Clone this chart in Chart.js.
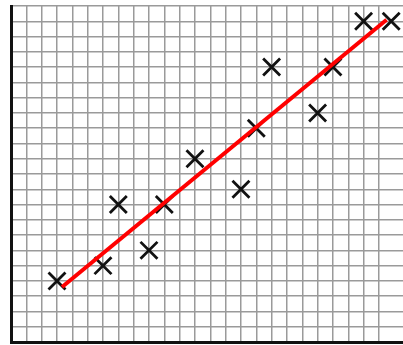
<!DOCTYPE html>
<html>
<head>
<meta charset="utf-8">
<style>
  html, body { margin: 0; padding: 0; background: #fff; }
  canvas { display: block; }
</style>
<script src="https://cdn.jsdelivr.net/npm/chart.js@4"></script>
</head>
<body>
<canvas id="chart" width="403" height="345"></canvas>
<script>
// scatter points (1 unit = 1 cell)
const pointsX = [3, 6, 7, 9, 10, 12, 15, 16, 17, 20, 21, 23, 24.8];
const pointsY = [4, 5, 9, 6, 9, 12, 10, 14, 18, 15, 18, 21, 21];

// red trend line endpoints
const lineX = [3.33, 24.5];
const lineY = [3.6, 21.1];

const xRange = [0, 25.57];
const yRange = [0, 22];

const toXY = (xs, ys) => xs.map((x, i) => ({ x, y: ys[i] }));

// keep only whole-number ticks so the grid is one cell per unit
const wholeTicks = (scale) => {
  scale.ticks = scale.ticks.filter((t) => Number.isInteger(t.value));
};

const gridOpts = {
  color: '#9a9a9a',
  lineWidth: 1.5,
  drawTicks: false
};

const borderOpts = {
  color: '#111',
  width: 3
};

new Chart(document.getElementById('chart').getContext('2d'), {
  type: 'scatter',
  data: {
    datasets: [
      {
        label: 'points',
        data: toXY(pointsX, pointsY),
        pointStyle: 'crossRot',
        pointRadius: 12,
        pointBorderWidth: 2.8,
        borderColor: '#111',
        backgroundColor: '#111',
        order: 1
      },
      {
        // drawn over the markers
        type: 'line',
        label: 'fit',
        data: toXY(lineX, lineY),
        borderColor: '#ff0000',
        borderWidth: 4,
        pointRadius: 0,
        fill: false,
        order: 0
      }
    ]
  },
  options: {
    responsive: false,
    animation: false,
    layout: {
      autoPadding: false,
      padding: { left: 11, top: 6, right: 0, bottom: 3 }
    },
    plugins: {
      legend: { display: false },
      tooltip: { enabled: false }
    },
    scales: {
      x: {
        type: 'linear',
        position: 'bottom',
        min: xRange[0],
        max: xRange[1],
        ticks: { display: false, stepSize: 1 },
        afterBuildTicks: wholeTicks,
        grid: gridOpts,
        border: borderOpts
      },
      y: {
        type: 'linear',
        min: yRange[0],
        max: yRange[1],
        ticks: { display: false, stepSize: 1 },
        afterBuildTicks: wholeTicks,
        grid: gridOpts,
        border: borderOpts
      }
    }
  }
});
</script>
</body>
</html>
